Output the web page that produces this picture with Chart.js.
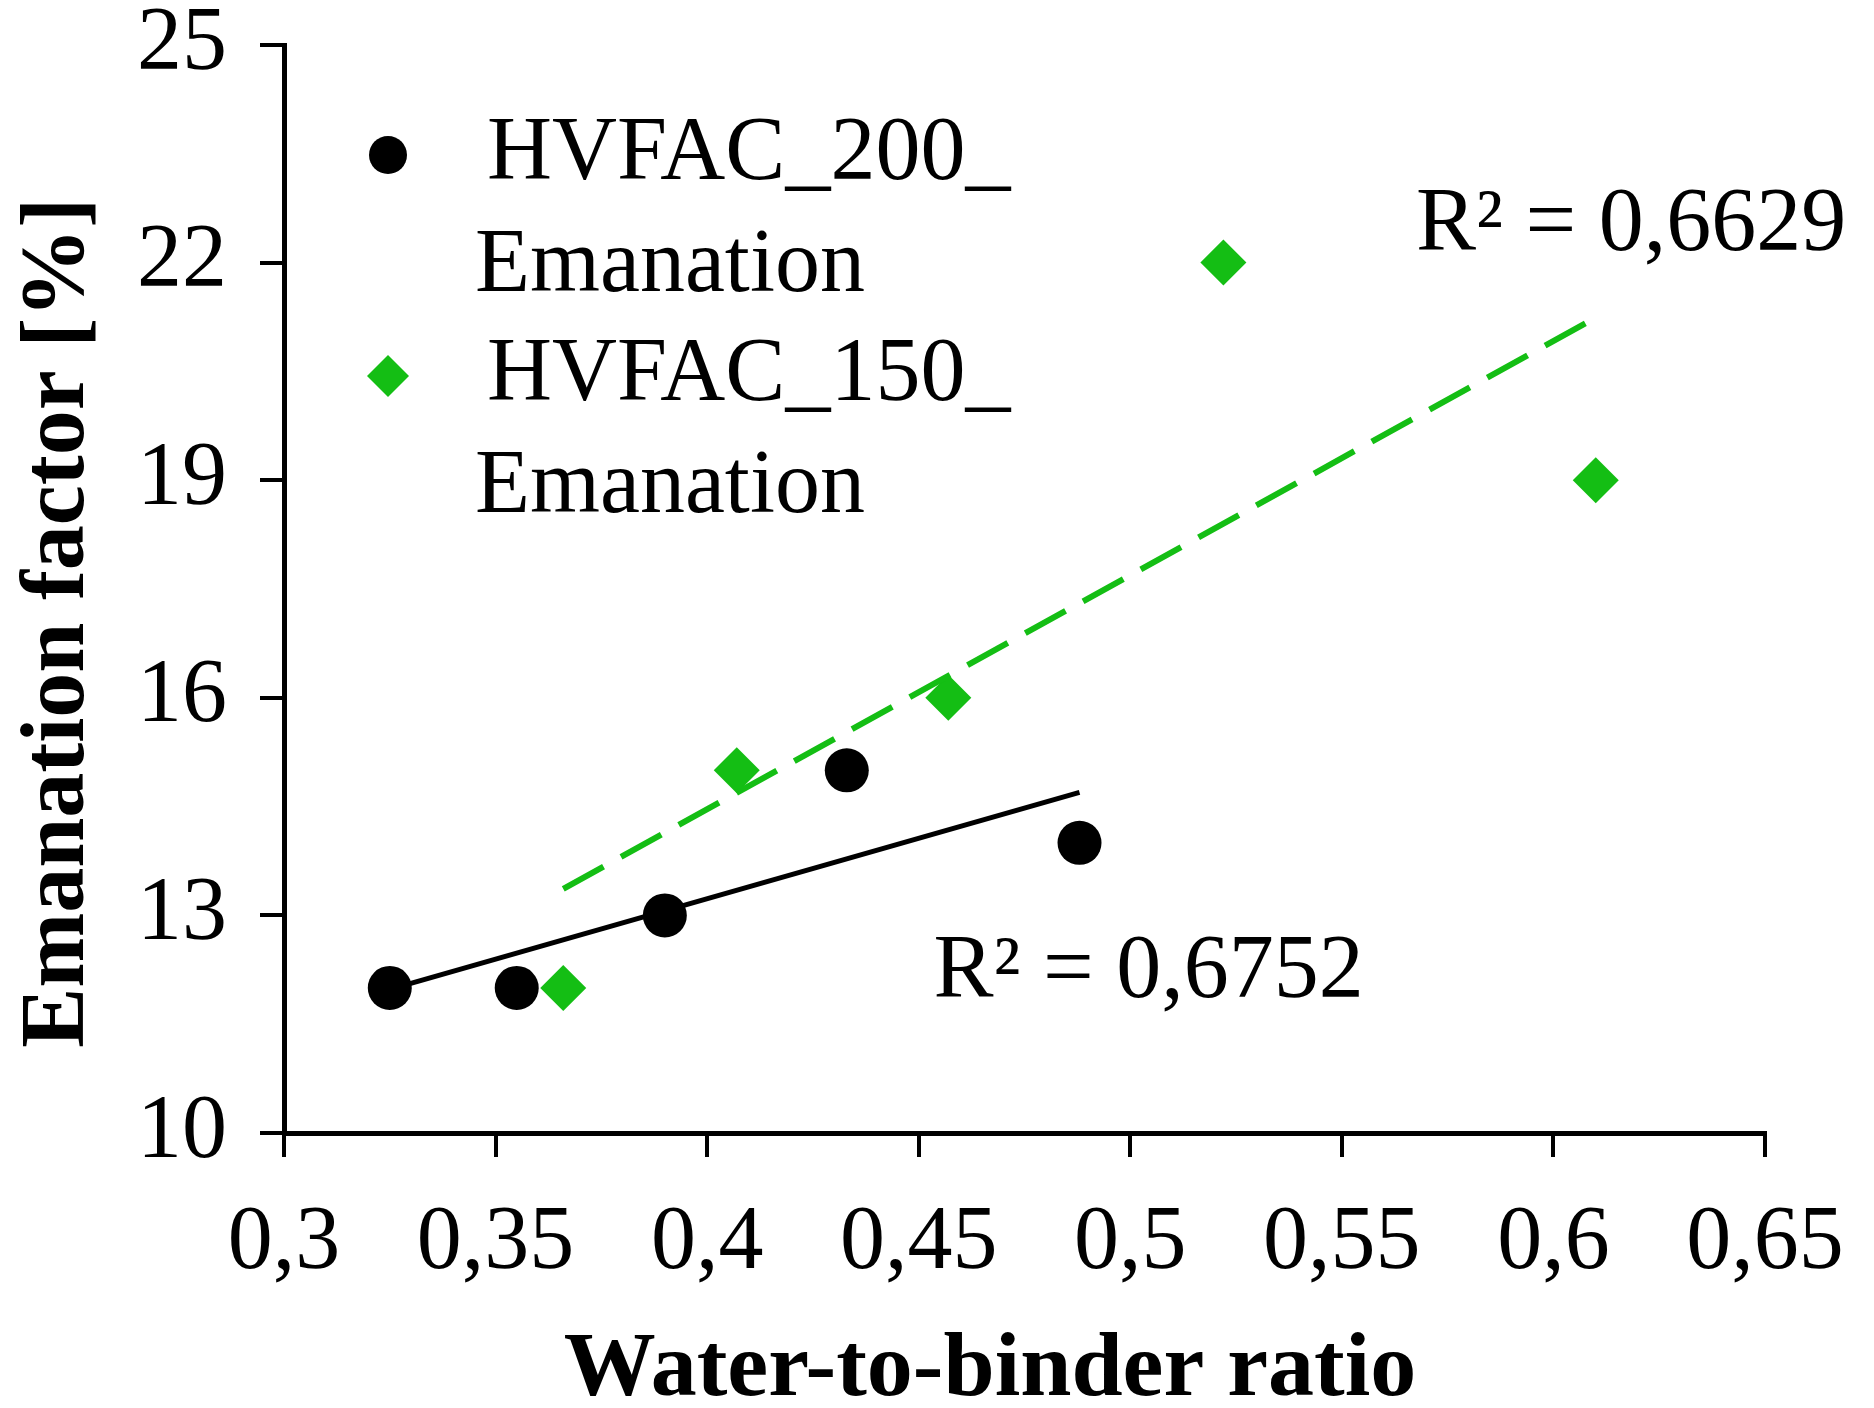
<!DOCTYPE html>
<html>
<head>
<meta charset="utf-8">
<script src="https://cdn.jsdelivr.net/npm/chart.js@4.4.1/dist/chart.umd.min.js"></script>
<style>
  html, body { margin: 0; padding: 0; background: #ffffff; }
  #wrap { width: 1874px; height: 1408px; position: relative; }
  canvas { display: block; }
</style>
</head>
<body>
<div id="wrap"><canvas id="c" width="1874" height="1408"></canvas></div>
<script>
// ---- Data ----
const seriesNames = ["HVFAC_200_\nEmanation", "HVFAC_150_\nEmanation"];
const hv200_x = [0.325, 0.355, 0.39, 0.433, 0.488];
const hv200_y = [12, 12, 13, 15, 14];
const hv150_x = [0.366, 0.407, 0.457, 0.522, 0.61];
const hv150_y = [12, 15, 16, 22, 19];
const r2Labels = ["R² = 0,6752", "R² = 0,6629"];
const xTicks = [0.3, 0.35, 0.4, 0.45, 0.5, 0.55, 0.6, 0.65];
const yTicks = [10, 13, 16, 19, 22, 25];
const xTitle = "Water-to-binder ratio";
const yTitle = "Emanation factor [%]";

const GREEN = '#14be14';
const FONT = "'Liberation Serif', 'Times New Roman', serif";

function pts(xs, ys) { return xs.map((x, i) => ({ x: x, y: ys[i] })); }
function fit(xs, ys) {
  const n = xs.length;
  const mx = xs.reduce((a, b) => a + b, 0) / n;
  const my = ys.reduce((a, b) => a + b, 0) / n;
  let sxy = 0, sxx = 0;
  for (let i = 0; i < n; i++) { sxy += (xs[i] - mx) * (ys[i] - my); sxx += (xs[i] - mx) ** 2; }
  const b = sxy / sxx, a = my - b * mx;
  const x0 = Math.min(...xs), x1 = Math.max(...xs);
  return [{ x: x0, y: a + b * x0 }, { x: x1, y: a + b * x1 }];
}

const fmt = v => String(v).replace('.', ',');

const overlay = {
  id: 'overlay',
  afterDraw(chart) {
    const ctx = chart.ctx;
    const xs = chart.scales.x, ys = chart.scales.y;
    const ca = chart.chartArea;
    ctx.save();
    ctx.textBaseline = 'middle';
    ctx.textAlign = 'left';
    ctx.font = "90px " + FONT;
    // legend
    const entries = [
      { ds: chart.data.datasets[0], top: ca.top + 110 },
      { ds: chart.data.datasets[1], top: ca.top + 331 }
    ];
    entries.forEach(e => {
      const mx = ca.left + 104;
      ctx.fillStyle = e.ds.backgroundColor;
      ctx.beginPath();
      if (e.ds.pointStyle === 'circle') { ctx.arc(mx, e.top, 19, 0, Math.PI * 2); }
      else { const r = 21; ctx.moveTo(mx, e.top - r); ctx.lineTo(mx + r, e.top); ctx.lineTo(mx, e.top + r); ctx.lineTo(mx - r, e.top); ctx.closePath(); }
      ctx.fill();
      ctx.fillStyle = '#000';
      const lines = e.ds.label.split('\n');
      ctx.fillText(lines[0], ca.left + 203, e.top);
      ctx.fillText(lines[1], ca.left + 191, e.top + 112);
    });
    // R² labels anchored in data space
    ctx.fillText(r2Labels[1], xs.getPixelForValue(0.5675), ys.getPixelForValue(22.5));
    ctx.fillText(r2Labels[0], xs.getPixelForValue(0.4535), ys.getPixelForValue(12.2));
    ctx.restore();
  }
};

new Chart(document.getElementById('c'), {
  type: 'scatter',
  data: {
    datasets: [
      { label: seriesNames[0], data: pts(hv200_x, hv200_y), pointStyle: 'circle', pointRadius: 22,
        backgroundColor: '#000', borderColor: '#000', borderWidth: 0, order: 1 },
      { label: seriesNames[1], data: pts(hv150_x, hv150_y), pointStyle: 'rectRot', pointRadius: 23,
        backgroundColor: GREEN, borderColor: GREEN, borderWidth: 0, order: 2 },
      { label: 'trend200', type: 'line', data: fit(hv200_x, hv200_y), borderColor: '#000', borderWidth: 5,
        pointRadius: 0, fill: false, order: 3 },
      { label: 'trend150', type: 'line', data: fit(hv150_x, hv150_y), borderColor: GREEN, borderWidth: 6,
        borderDash: [46, 20], pointRadius: 0, fill: false, order: 0 }
    ]
  },
  options: {
    responsive: false,
    animation: false,
    layout: { padding: { left: 0, right: 109, top: 45, bottom: 0 } },
    plugins: { legend: { display: false }, tooltip: { enabled: false } },
    scales: {
      x: {
        type: 'linear', min: 0.3, max: 0.65,
        afterBuildTicks: s => { s.ticks = xTicks.map(v => ({ value: v })); },
        afterFit: s => { s.height = 275; s.paddingLeft = 0; s.paddingRight = 0; },
        ticks: { font: { family: FONT, size: 90, lineHeight: 1.0 }, color: '#000', padding: 42, maxRotation: 0, autoSkip: false,
                 callback: v => fmt(v) },
        grid: { display: true, drawOnChartArea: false, drawTicks: true, tickLength: 24, color: '#000', lineWidth: 4 },
        border: { display: true, color: '#000', width: 5 },
        title: { display: true, text: xTitle + "   ", color: '#000',
                 font: { family: FONT, size: 92, weight: 'bold', lineHeight: 0.8 }, padding: { top: 0, bottom: 0 } }
      },
      y: {
        type: 'linear', min: 10, max: 25,
        afterBuildTicks: s => { s.ticks = yTicks.map(v => ({ value: v })); },
        afterFit: s => { s.width = 284; s.paddingTop = 0; s.paddingBottom = 0; },
        ticks: { font: { family: FONT, size: 90, lineHeight: 1.0 }, color: '#000', padding: 33, autoSkip: false },
        grid: { display: true, drawOnChartArea: false, drawTicks: true, tickLength: 24, color: '#000', lineWidth: 4 },
        border: { display: true, color: '#000', width: 5 },
        title: { display: true, text: yTitle + "   ", color: '#000',
                 font: { family: FONT, size: 90, weight: 'bold', lineHeight: 1 }, padding: { top: 15, bottom: 0 } }
      }
    }
  },
  plugins: [overlay]
});
</script>
</body>
</html>
